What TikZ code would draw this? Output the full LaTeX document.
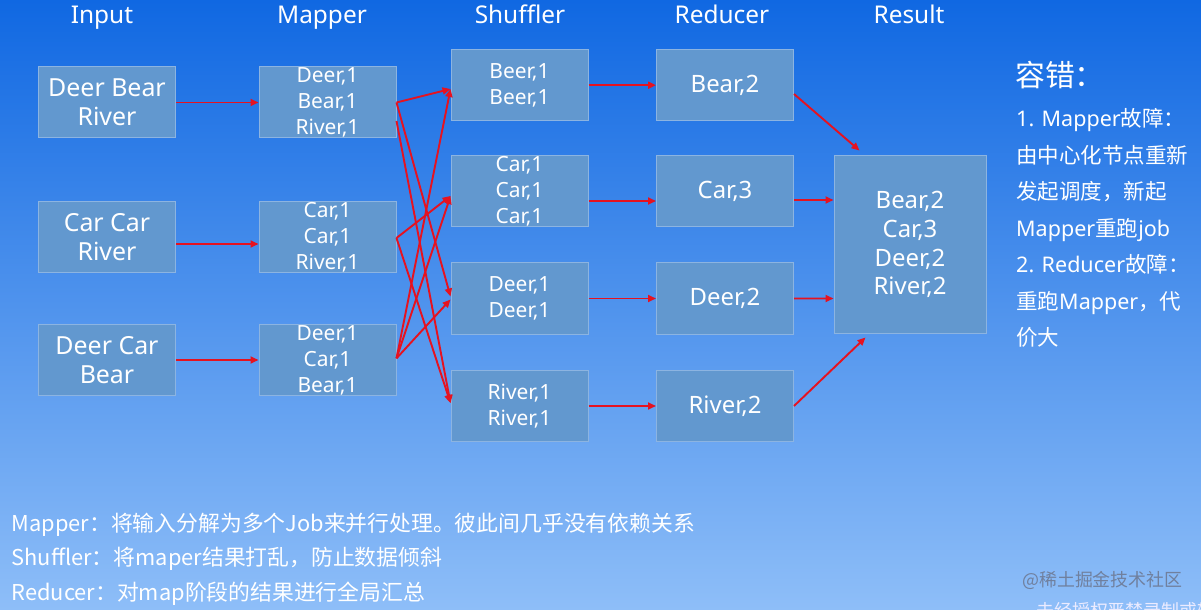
\documentclass[tikz,border=0pt]{standalone}
\usepackage{fontspec}
\setmainfont{Noto Sans}
\newfontfamily\cjk{Noto Sans CJK SC}
\usetikzlibrary{arrows.meta}
\definecolor{bgtop}{RGB}{16,104,226}
\definecolor{bgmid}{RGB}{58,140,236}
\definecolor{bgbot}{RGB}{142,190,248}
\definecolor{boxfill}{RGB}{98,152,207}
\definecolor{boxline}{RGB}{140,180,225}
\definecolor{arrred}{RGB}{230,18,32}
\definecolor{wmgray}{RGB}{112,128,158}
\begin{document}
\begin{tikzpicture}[x=1bp,y=-1bp,
  box/.style={draw=boxline, fill=boxfill, line width=1bp, inner sep=0pt, align=center, text=white,
    minimum width=137bp, minimum height=71bp},
  inbox/.style={box, font=\fontsize{25}{29}\selectfont},
  mapbox/.style={box, font=\fontsize{21}{26}\selectfont},
  shbox/.style={box, font=\fontsize{21}{26}\selectfont},
  redbox/.style={box, font=\fontsize{24}{29}\selectfont},
  hdr/.style={anchor=base, text=white, inner sep=0pt, font=\fontsize{24.5}{28}\selectfont},
  side/.style={anchor=base west, text=white, inner sep=0pt, font=\fontsize{21.6}{26}\selectfont},
  note/.style={anchor=base west, text=white, inner sep=0pt, font=\fontsize{21.9}{26}\selectfont\cjk},
  arr/.style={draw=arrred, line width=1.9bp, -{Triangle[length=8bp,width=7bp]}}
]
\useasboundingbox (0,0) rectangle (1201,610);
\clip (0,0) rectangle (1201,610);
\shade[top color=bgtop, middle color=bgmid, bottom color=bgbot] (0,0) rectangle (1201,610);

% headers
\node[hdr] (hIn)  at (102,24) {Input};
\node[hdr] (hMap) at (322,24) {Mapper};
\node[hdr] (hSh)  at (520,24) {Shuffler};
\node[hdr] (hRed) at (722,24) {Reducer};
\node[hdr] (hRes) at (909,24) {Result};

% input
\node[inbox] (I1) at (107,102.5) {Deer Bear\\River};
\node[inbox] (I2) at (107,237) {Car Car\\River};
\node[inbox] (I3) at (107,360) {Deer Car\\Bear};

% mapper
\node[mapbox] (M1) at (327.5,102.5) {Deer,1\\Bear,1\\River,1};
\node[mapbox] (M2) at (327.5,237) {Car,1\\Car,1\\River,1};
\node[mapbox] (M3) at (327.5,360) {Deer,1\\Car,1\\Bear,1};

% shuffler
\node[shbox] (S1) at (519.5,85.5) {Beer,1\\Beer,1};
\node[shbox] (S2) at (519.5,191) {Car,1\\Car,1\\Car,1};
\node[shbox] (S3) at (519.5,298.5) {Deer,1\\Deer,1};
\node[shbox] (S4) at (519.5,406) {River,1\\River,1};

% reducer
\node[redbox] (R1) at (725,85.5) {Bear,2};
\node[redbox] (R2) at (725,191) {Car,3};
\node[redbox] (R3) at (725,298.5) {Deer,2};
\node[redbox] (R4) at (725,406) {River,2};

% result
\node[box, minimum width=152bp, minimum height=177bp, font=\fontsize{24}{29}\selectfont] (Res) at (910,244.5)
  {Bear,2\\Car,3\\Deer,2\\River,2};

% input -> mapper
\draw[arr] (I1) -- (M1);
\draw[arr] ([yshift=-7bp]I2.east) -- ([yshift=-7bp]M2.west);
\draw[arr] (I3) -- (M3);

% mapper -> shuffler
\draw[arr] (M1.east) -- ([yshift=-3.5bp]S1.west);
\draw[arr] (M1.east) -- ([yshift=2bp]S3.west);
\draw[arr] ([yshift=-18.5bp]M1.east) -- ([yshift=3bp]S4.west);
\draw[arr] ([yshift=-1bp]M2.east) -- ([yshift=-5bp]S2.west);
\draw[arr] ([yshift=-1bp]M2.east) -- ([yshift=3bp]S4.west);
\draw[arr] ([yshift=1.7bp]M3.east) -- ([yshift=-3.5bp]S1.west);
\draw[arr] ([yshift=1.7bp]M3.east) -- ([yshift=-5bp]S2.west);
\draw[arr] ([yshift=1.7bp]M3.east) -- ([yshift=-1bp]S3.west);

% shuffler -> reducer
\draw[arr] ([yshift=0.3bp]S1.east) -- ([yshift=0.3bp]R1.west);
\draw[arr] ([yshift=-10bp]S2.east) -- ([yshift=-10bp]R2.west);
\draw[arr] (S3) -- (R3);
\draw[arr] (S4) -- (R4);

% reducer -> result
\draw[arr] ([yshift=-8.5bp]R1.east) -- ([xshift=26bp,yshift=5bp]Res.north west);
\draw[arr] ([yshift=-9bp]R2.east) -- ([yshift=44.5bp]Res.west);
\draw[arr] (R3.east) -- ([yshift=-54bp]Res.west);
\draw[arr] (R4.east) -- ([xshift=32bp,yshift=-4bp]Res.south west);

% fault tolerance text
\node[anchor=base west, text=white, inner sep=0pt, font=\fontsize{30}{32}\selectfont\cjk] (ft) at (1015,87) {容错：};
\node[side] (f1) at (1016,127)   {1. Mapper{\cjk 故障：}};
\node[side] (f2) at (1016,163.5) {\cjk 由中心化节点重新};
\node[side] (f3) at (1016,200)   {\cjk 发起调度，新起};
\node[side] (f4) at (1016,236.5) {Mapper{\cjk 重跑}job};
\node[side] (f5) at (1016,273)   {2. Reducer{\cjk 故障：}};
\node[side] (f6) at (1016,309.5) {{\cjk 重跑}Mapper{\cjk ，代}};
\node[side] (f7) at (1016,346)   {\cjk 价大};

% bottom notes
\node[note] (n1) at (11.5,531.5) {Mapper：将输入分解为多个Job来并行处理。彼此间几乎没有依赖关系};
\node[note] (n2) at (11.5,565.5) {Shuffler：将maper结果打乱，防止数据倾斜};
\node[note] (n3) at (11.5,600)   {Reducer：对map阶段的结果进行全局汇总};

% watermark
\node[anchor=base west, text=wmgray, inner sep=0pt, font=\fontsize{18}{20}\selectfont\cjk] (wm1) at (1022,586.5) {@稀土掘金技术社区};
\node[anchor=base west, text=white!92!blue, inner sep=0pt, font=\fontsize{18}{20}\selectfont\cjk] (wm2) at (1036,617) {未经授权严禁录制或转载};
\end{tikzpicture}
\end{document}
